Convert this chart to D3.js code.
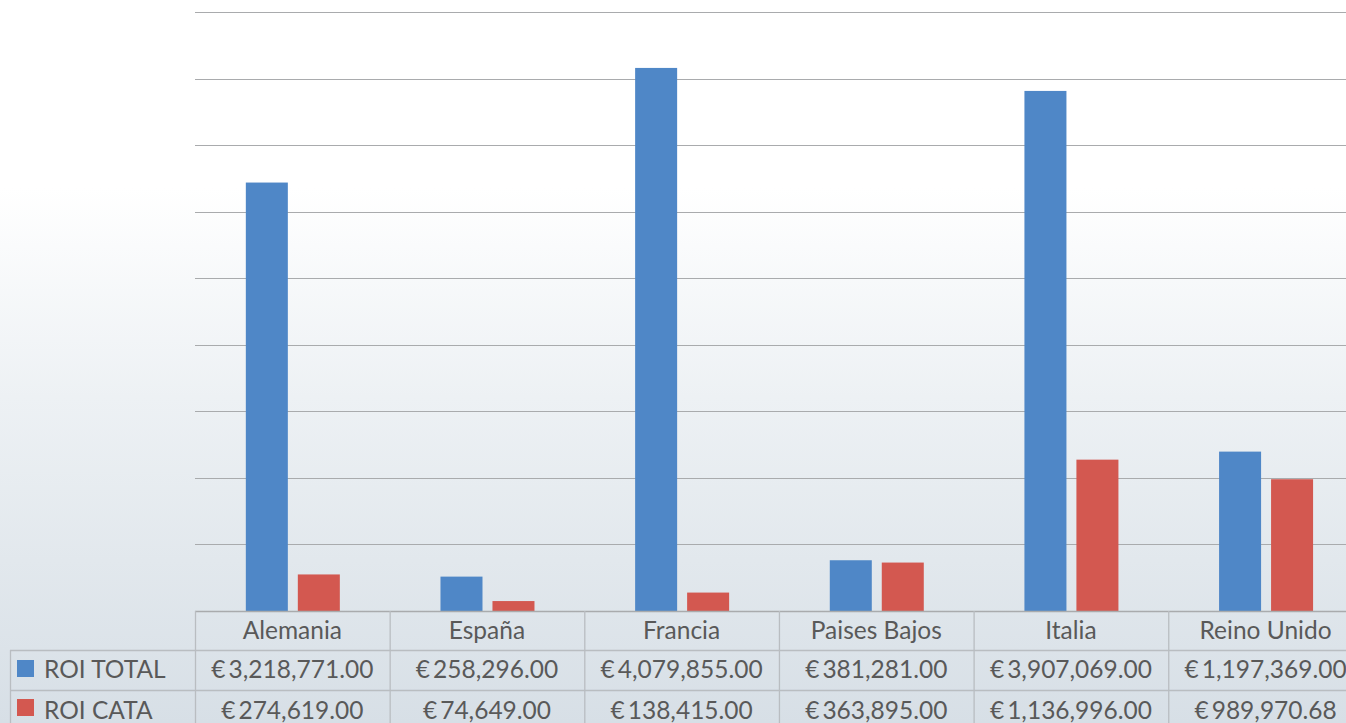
<!DOCTYPE html>
<html><head><meta charset="utf-8">
<script src="https://cdn.jsdelivr.net/npm/d3@7"></script>
<style>html,body{margin:0;padding:0;overflow:hidden;background:#fff}</style>
</head><body>
<svg id="c" width="1346" height="723"></svg>
<script>
const categories = ["Alemania","España","Francia","Paises Bajos","Italia","Reino Unido"];
const seriesNames = ["ROI TOTAL","ROI CATA"];
const roiTotal = [3218771.00, 258296.00, 4079855.00, 381281.00, 3907069.00, 1197369.00];
const roiCata = [274619.00, 74649.00, 138415.00, 363895.00, 1136996.00, 989970.68];
const seriesColors = ["#4f87c7","#d35850"];
const yMax = 4500000, yStep = 500000;

(function(){
const svg = d3.select("#c");
const W = 1346, H = 723;
const defs = svg.append("defs");
const g = defs.append("linearGradient").attr("id","bg").attr("x1",0).attr("y1",0).attr("x2",0).attr("y2",1);
g.append("stop").attr("offset","0%").attr("stop-color","#ffffff");
g.append("stop").attr("offset","26%").attr("stop-color","#ffffff");
g.append("stop").attr("offset","55%").attr("stop-color","#edf1f4");
g.append("stop").attr("offset","100%").attr("stop-color","#d7dfe6");
svg.append("rect").attr("width",W).attr("height",H).attr("fill","url(#bg)");

const plotLeft = 195, bandW = 194.65, plotTop = 12, base = 611;
const x = d3.scaleBand().domain(categories).range([plotLeft, plotLeft + bandW*categories.length]).padding(0);
const y = d3.scaleLinear().domain([0, yMax]).range([base, plotTop]);
const x1 = d3.scaleBand().domain(seriesNames).range([0, bandW]).paddingInner(0.192).paddingOuter(0.968).align(0.505);

const ticks = d3.range(yStep, yMax + 1, yStep);
svg.append("g").selectAll("line").data(ticks).join("line")
  .attr("x1", plotLeft).attr("x2", W).attr("y1", d => Math.round(y(d))+0.5).attr("y2", d => Math.round(y(d))+0.5)
  .attr("stroke","#a9abad").attr("stroke-width",1.2);

const series = [roiTotal, roiCata];
series.forEach((vals, si) => {
  svg.append("g").selectAll("rect").data(vals).join("rect")
    .attr("x", (d,i) => x(categories[i]) + x1(seriesNames[si]))
    .attr("width", x1.bandwidth())
    .attr("y", d => y(d))
    .attr("height", d => base - y(d))
    .attr("fill", seriesColors[si]);
});

const lineCol = "#b9bdc1";
const tbl = svg.append("g");
const font = "Lato, 'Open Sans', sans-serif";
const fs = 24.5;
tbl.append("line").attr("x1",plotLeft).attr("x2",W).attr("y1",base+0.5).attr("y2",base+0.5).attr("stroke","#a9abad").attr("stroke-width",1.3);
[650,690].forEach(yy => tbl.append("line").attr("x1",10).attr("x2",W).attr("y1",yy+0.5).attr("y2",yy+0.5).attr("stroke",lineCol).attr("stroke-width",1.3));
tbl.append("line").attr("x1",10.5).attr("x2",10.5).attr("y1",650).attr("y2",H).attr("stroke",lineCol).attr("stroke-width",1.3);
categories.forEach((c,i) => {
  const xx = x(c);
  tbl.append("line").attr("x1",xx+0.5).attr("x2",xx+0.5).attr("y1",base).attr("y2",H).attr("stroke",lineCol).attr("stroke-width",1.3);
});
tbl.selectAll("text.h").data(categories).join("text").attr("class","h")
  .attr("x", d => x(d) + bandW/2).attr("y", 638.5)
  .attr("text-anchor","middle").attr("font-family",font).attr("font-size",fs).attr("fill","#595959").text(d => d);
const fmt = d3.format(",.2f");
series.forEach((vals, si) => {
  const yy = si === 0 ? 678 : 718.5;
  tbl.append("g").selectAll("text").data(vals).join("text")
    .attr("x", (d,i) => x(categories[i]) + bandW/2).attr("y", yy)
    .attr("text-anchor","middle").attr("font-family",font).attr("font-size",fs).attr("fill","#595959")
    .text(d => "€\u2009" + fmt(d));
  tbl.append("rect").attr("x",17).attr("y", si === 0 ? 660 : 699).attr("width",17).attr("height",17).attr("fill",seriesColors[si]);
  tbl.append("text").attr("x",44).attr("y",yy).attr("font-family",font).attr("font-size",fs).attr("fill","#595959").text(seriesNames[si]);
});
})();
</script>
</body></html>
